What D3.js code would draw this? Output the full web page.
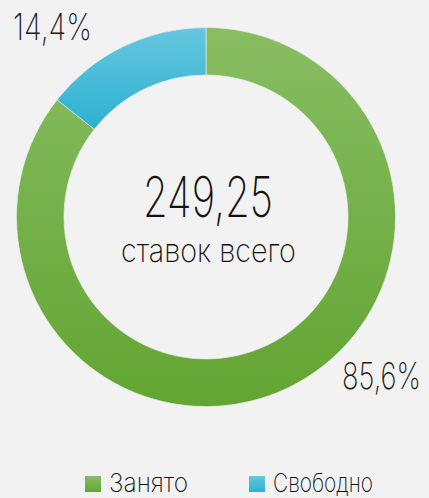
<!DOCTYPE html>
<html>
<head>
<meta charset="utf-8">
<script src="https://cdn.jsdelivr.net/npm/d3@7"></script>
<style>
	html, body { margin: 0; padding: 0; background: #f2f2f2; }
	svg { display: block; }
	.thin { font-family: Inter, 'Open Sans', sans-serif; font-weight: 200; fill: #1a1a1a; }
	.tech { font-family: Inter, 'DejaVu Sans Condensed', sans-serif; font-weight: 200; fill: #111; }
</style>
</head>
<body>
<script>
const categories = ['Занято', 'Свободно']
const values = [85.6, 14.4]
const valueLabels = ['85,6%', '14,4%']
const total = '249,25'
const subtitle = 'ставок всего'
const colors = [['#88bd62', '#62a532'], ['#66c6df', '#2cb1d1']]

const width = 429
const height = 498
const cx = 206
const cy = 217
const outerR = 189.5
const innerR = 142

const svg = d3.select('body')
	.append('svg')
	.attr('width', width)
	.attr('height', height)

const defs = svg.append('defs')
colors.forEach((c, i) => {
	const g = defs.append('linearGradient')
		.attr('id', `grad${i}`)
		.attr('x1', 0).attr('y1', 0).attr('x2', 0).attr('y2', 1)
	g.append('stop').attr('offset', '0%').attr('stop-color', c[0])
	g.append('stop').attr('offset', '100%').attr('stop-color', c[1])
})

// squeeze a text to a given width (the original font is condensed)
const fitText = (sel, x, y, w) => {
	sel.each(function () {
		const t = d3.select(this)
		const natural = this.getComputedTextLength()
		t.attr('transform', `translate(${x},${y}) scale(${w / natural},1)`)
	})
}

const pie = d3.pie().sort(null).value(d => d)
const arc = d3.arc().innerRadius(innerR).outerRadius(outerR)

const chart = svg.append('g')
	.attr('transform', `translate(${cx},${cy})`)

chart.selectAll('path')
	.data(pie(values))
	.enter()
	.append('path')
	.attr('d', arc)
	.attr('fill', (d, i) => `url(#grad${i})`)
	.attr('stroke', '#f2f2f2')
	.attr('stroke-width', 0.6)

chart.append('text')
	.attr('class', 'tech')
	.style('font-size', '56px')
	.text(total)
	.call(fitText, -63, 0, 130)

chart.append('text')
	.attr('class', 'tech')
	.style('font-size', '33px')
	.text(subtitle)
	.call(fitText, -85, 45, 175)

// percentage labels
svg.append('text')
	.attr('class', 'thin')
	.style('font-size', '37px')
	.text(valueLabels[1])
	.call(fitText, 13, 40, 79)

svg.append('text')
	.attr('class', 'thin')
	.style('font-size', '37px')
	.text(valueLabels[0])
	.call(fitText, 342, 389, 79)

// legend
const legendX = d3.scalePoint()
	.domain(categories)
	.range([85, 249])

const legendW = [79, 100]

const legend = svg.selectAll('.legend')
	.data(categories)
	.enter()
	.append('g')
	.attr('class', 'legend')
	.attr('transform', d => `translate(${legendX(d)},476)`)

legend.append('rect')
	.attr('width', 16)
	.attr('height', 16)
	.attr('fill', (d, i) => `url(#grad${i})`)

legend.append('text')
	.attr('class', 'tech')
	.style('font-size', '26px')
	.text(d => d)
	.each(function (d, i) {
		d3.select(this).call(fitText, 24, 15.5, legendW[i])
	})
</script>
</body>
</html>
